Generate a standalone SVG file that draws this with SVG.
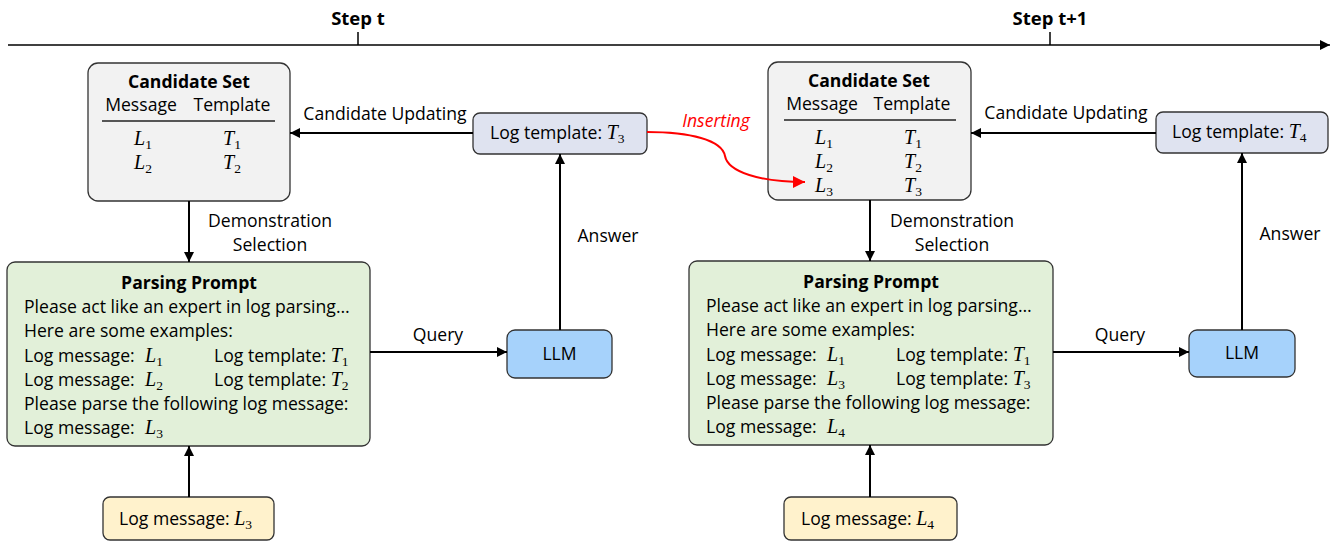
<svg xmlns="http://www.w3.org/2000/svg" width="1340" height="544" viewBox="0 0 1340 544">
<defs>
<marker id="ah" viewBox="0 0 10 10" refX="10" refY="5" markerWidth="10" markerHeight="10" markerUnits="userSpaceOnUse" orient="auto"><path d="M0,0 L10,5 L0,10 z" fill="#000"/></marker>
<marker id="ahr" viewBox="0 0 10 10" refX="10" refY="5" markerWidth="12" markerHeight="12" markerUnits="userSpaceOnUse" orient="auto"><path d="M0,0 L10,5 L0,10 z" fill="#ff0000"/></marker>
<style>
text{font-family:"Open Sans",Lato,"Liberation Sans",sans-serif;font-size:17.6px;fill:#000}
.b{font-weight:bold}
.m{font-family:"Liberation Serif",serif;font-style:italic;font-size:20px}
.s{font-family:"Liberation Serif",serif;font-size:13.5px}
.cs{fill:#f2f2f2;stroke:#333;stroke-width:1.3}
.lt{fill:#dfe3f0;stroke:#333;stroke-width:1.3}
.pp{fill:#e2f0d9;stroke:#333;stroke-width:1.3}
.llm{fill:#a6d2fb;stroke:#333;stroke-width:1.3}
.lm{fill:#fff2cc;stroke:#333;stroke-width:1.3}
.c{stroke:#000;stroke-width:2;fill:none}
</style>
</defs>
<g id="timeline">
<line x1="8" y1="45" x2="1330" y2="45" stroke="#000" stroke-width="1.5" marker-end="url(#ah)"/>
<line x1="358" y1="32" x2="358" y2="45" stroke="#000" stroke-width="1.5"/>
<line x1="1050" y1="32" x2="1050" y2="45" stroke="#000" stroke-width="1.5"/>
<text x="358" y="25" text-anchor="middle" class="b" style="font-size:18.5px">Step t</text>
<text x="1050" y="25" text-anchor="middle" class="b" style="font-size:18.5px">Step t+1</text>
</g>
<g id="candidate-set-t">
<rect x="88" y="63" width="202" height="138" rx="10" class="cs"/>
<text x="189" y="88" text-anchor="middle" class="b">Candidate Set</text>
<text x="141" y="111" text-anchor="middle">Message</text>
<text x="232" y="111" text-anchor="middle">Template</text>
<line x1="102" y1="121" x2="275" y2="121" stroke="#222" stroke-width="1.5"/>
<text x="134" y="145"><tspan class="m">L</tspan><tspan class="s" dy="4">1</tspan></text>
<text x="223" y="145"><tspan class="m">T</tspan><tspan class="s" dy="4">1</tspan></text>
<text x="134" y="169"><tspan class="m">L</tspan><tspan class="s" dy="4">2</tspan></text>
<text x="223" y="169"><tspan class="m">T</tspan><tspan class="s" dy="4">2</tspan></text>
</g>
<g id="log-template-t3">
<rect x="473" y="113" width="174" height="41" rx="7" class="lt"/>
<text x="490" y="139">Log template: <tspan class="m">T</tspan><tspan class="s" dy="4">3</tspan></text>
</g>
<g id="parsing-prompt-t">
<rect x="7" y="262" width="363" height="184" rx="8" class="pp"/>
<text x="189" y="289" text-anchor="middle" class="b">Parsing Prompt</text>
<text x="24" y="313">Please act like an expert in log parsing…</text>
<text x="24" y="337">Here are some examples:</text>
<text x="24" y="362">Log message:</text><text x="145" y="362"><tspan class="m">L</tspan><tspan class="s" dy="4">1</tspan></text>
<text x="214" y="362">Log template: <tspan class="m">T</tspan><tspan class="s" dy="4">1</tspan></text>
<text x="24" y="386">Log message:</text><text x="145" y="386"><tspan class="m">L</tspan><tspan class="s" dy="4">2</tspan></text>
<text x="214" y="386">Log template: <tspan class="m">T</tspan><tspan class="s" dy="4">2</tspan></text>
<text x="24" y="410">Please parse the following log message:</text>
<text x="24" y="434">Log message:</text><text x="145" y="434"><tspan class="m">L</tspan><tspan class="s" dy="4">3</tspan></text>
</g>
<g id="llm-t">
<rect x="507" y="330" width="105" height="48" rx="8" class="llm"/>
<text x="559.5" y="360" text-anchor="middle">LLM</text>
</g>
<g id="log-message-l3">
<rect x="103" y="497" width="171" height="43" rx="7" class="lm"/>
<text x="119" y="525">Log message: <tspan class="m">L</tspan><tspan class="s" dy="4">3</tspan></text>
</g>
<g id="candidate-set-t1">
<rect x="768" y="62" width="203" height="138" rx="10" class="cs"/>
<text x="869" y="87" text-anchor="middle" class="b">Candidate Set</text>
<text x="822" y="110" text-anchor="middle">Message</text>
<text x="912" y="110" text-anchor="middle">Template</text>
<line x1="784" y1="120" x2="956" y2="120" stroke="#222" stroke-width="1.5"/>
<text x="815" y="144"><tspan class="m">L</tspan><tspan class="s" dy="4">1</tspan></text>
<text x="904" y="144"><tspan class="m">T</tspan><tspan class="s" dy="4">1</tspan></text>
<text x="815" y="168"><tspan class="m">L</tspan><tspan class="s" dy="4">2</tspan></text>
<text x="904" y="168"><tspan class="m">T</tspan><tspan class="s" dy="4">2</tspan></text>
<text x="815" y="192"><tspan class="m">L</tspan><tspan class="s" dy="4">3</tspan></text>
<text x="904" y="192"><tspan class="m">T</tspan><tspan class="s" dy="4">3</tspan></text>
</g>
<g id="log-template-t4">
<rect x="1156" y="112" width="172" height="41" rx="7" class="lt"/>
<text x="1172" y="138">Log template: <tspan class="m">T</tspan><tspan class="s" dy="4">4</tspan></text>
</g>
<g id="parsing-prompt-t1">
<rect x="689" y="261" width="364" height="184" rx="8" class="pp"/>
<text x="871" y="288" text-anchor="middle" class="b">Parsing Prompt</text>
<text x="706" y="312">Please act like an expert in log parsing…</text>
<text x="706" y="336">Here are some examples:</text>
<text x="706" y="361">Log message:</text><text x="827" y="361"><tspan class="m">L</tspan><tspan class="s" dy="4">1</tspan></text>
<text x="896" y="361">Log template: <tspan class="m">T</tspan><tspan class="s" dy="4">1</tspan></text>
<text x="706" y="385">Log message:</text><text x="827" y="385"><tspan class="m">L</tspan><tspan class="s" dy="4">3</tspan></text>
<text x="896" y="385">Log template: <tspan class="m">T</tspan><tspan class="s" dy="4">3</tspan></text>
<text x="706" y="409">Please parse the following log message:</text>
<text x="706" y="433">Log message:</text><text x="827" y="433"><tspan class="m">L</tspan><tspan class="s" dy="4">4</tspan></text>
</g>
<g id="llm-t1">
<rect x="1189" y="330" width="106" height="47" rx="8" class="llm"/>
<text x="1242" y="359" text-anchor="middle">LLM</text>
</g>
<g id="log-message-l4">
<rect x="784" y="497" width="173" height="43" rx="7" class="lm"/>
<text x="801" y="525">Log message: <tspan class="m">L</tspan><tspan class="s" dy="4">4</tspan></text>
</g>
<g id="connectors">
<line x1="473" y1="133" x2="290" y2="133" class="c" marker-end="url(#ah)"/>
<line x1="560" y1="330" x2="560" y2="154" class="c" marker-end="url(#ah)"/>
<line x1="189" y1="201" x2="189" y2="262" class="c" marker-end="url(#ah)"/>
<line x1="370" y1="352" x2="507" y2="352" class="c" marker-end="url(#ah)"/>
<line x1="189" y1="497" x2="189" y2="446" class="c" marker-end="url(#ah)"/>
<path d="M647,132 C690,132 722,140 725,156 C728,172 760,182 805,182" stroke="#ff0000" stroke-width="2" fill="none" marker-end="url(#ahr)"/>
<line x1="1156" y1="133" x2="971" y2="133" class="c" marker-end="url(#ah)"/>
<line x1="1242" y1="330" x2="1242" y2="153" class="c" marker-end="url(#ah)"/>
<line x1="870" y1="200" x2="870" y2="261" class="c" marker-end="url(#ah)"/>
<line x1="1053" y1="352" x2="1189" y2="352" class="c" marker-end="url(#ah)"/>
<line x1="870" y1="497" x2="870" y2="445" class="c" marker-end="url(#ah)"/>
<text x="385" y="120" text-anchor="middle">Candidate Updating</text>
<text x="608" y="242" text-anchor="middle">Answer</text>
<text x="270" y="227" text-anchor="middle">Demonstration</text>
<text x="270" y="251" text-anchor="middle">Selection</text>
<text x="438" y="341" text-anchor="middle">Query</text>
<text x="716" y="127" text-anchor="middle" style="fill:#ff0000;font-style:italic">Inserting</text>
<text x="1066" y="119" text-anchor="middle">Candidate Updating</text>
<text x="1290" y="240" text-anchor="middle">Answer</text>
<text x="952" y="227" text-anchor="middle">Demonstration</text>
<text x="952" y="251" text-anchor="middle">Selection</text>
<text x="1120" y="341" text-anchor="middle">Query</text>
</g>
</svg>
